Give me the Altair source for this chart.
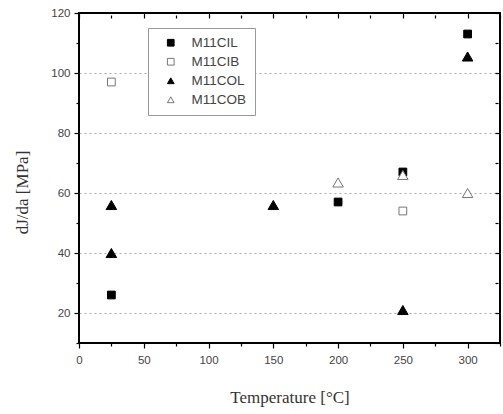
import altair as alt
import pandas as pd

series_names = ["M11CIL", "M11CIB", "M11COL", "M11COB"]

cil_x = [25, 200, 250, 300]
cil_y = [26, 57, 67, 113]
cib_x = [25, 250]
cib_y = [97, 54]
col_x = [25, 25, 150, 250, 300]
col_y = [56, 40, 56, 21, 105.5]
cob_x = [200, 250, 300]
cob_y = [63.5, 66, 60]

rows = []
for name, xs, ys in [("M11CIL", cil_x, cil_y), ("M11CIB", cib_x, cib_y),
                     ("M11COL", col_x, col_y), ("M11COB", cob_x, cob_y)]:
    for a, b in zip(xs, ys):
        rows.append({"series": name, "temp": a, "val": b})
df = pd.DataFrame(rows)

x_ticks = list(range(0, 326, 25))
y_ticks = list(range(10, 121, 10))

LAB = "Liberation Sans"
TIT = "Liberation Serif"

xscale = alt.Scale(domain=[0, 325], nice=False, zero=False)
yscale = alt.Scale(domain=[10, 120], nice=False, zero=False)

major_x = "datum.value % 50 == 0"
major_y = "datum.value % 20 == 0"

x_axis = alt.Axis(
    values=x_ticks, title="Temperature [°C]", titleFont=TIT, titleFontSize=17,
    titleFontWeight="normal", titleColor="#333", titleY=46,
    labelFont=LAB, labelFontSize=11.5, labelColor="#444",
    labelExpr="datum.value % 50 == 0 ? datum.label : ''",
    tickSize={"condition": {"test": major_x, "value": 5}, "value": 3},
    tickColor="black", tickWidth=1.2, labelPadding=6, domain=False, grid=False,
    labelFlush=False)
y_axis = alt.Axis(
    values=y_ticks, title="dJ/da [MPa]", titleFont=TIT, titleFontSize=17,
    titleFontWeight="normal", titleColor="#333", titleX=-48, titleY=179,
    labelFont=LAB, labelFontSize=11.5, labelColor="#444",
    labelExpr="datum.value % 20 == 0 ? datum.label : ''",
    tickSize={"condition": {"test": major_y, "value": 5}, "value": 3},
    tickColor="black", tickWidth=1.2, labelPadding=4, domain=False,
    grid=True, gridColor="#aaaaaa", gridDash=[2, 3], gridWidth=1,
    gridOpacity={"condition": {"test": "datum.value % 20 == 0 && datum.value < 120", "value": 1}, "value": 0},
    labelFlush=False)

enc_common = dict(
    shape=alt.Shape("series:N", scale=alt.Scale(domain=series_names,
                    range=["square", "square", "triangle-up", "triangle-up"]),
                    legend=alt.Legend(title=None)),
    fill=alt.Fill("series:N", scale=alt.Scale(domain=series_names,
                  range=["black", "white", "black", "white"]),
                  legend=alt.Legend(title=None)),
    stroke=alt.Stroke("series:N", scale=alt.Scale(domain=series_names,
                      range=["black", "#777777", "black", "#777777"]),
                      legend=alt.Legend(title=None)),
)

squares = alt.Chart(df).transform_filter(
    "indexof(datum.series, 'CI') >= 0"
).mark_point(filled=True, opacity=1, strokeWidth=1, size=60).encode(
    x=alt.X("temp:Q", scale=xscale, axis=x_axis),
    y=alt.Y("val:Q", scale=yscale, axis=y_axis),
    **enc_common,
)

triangles = alt.Chart(df).transform_filter(
    "indexof(datum.series, 'CO') >= 0"
).mark_point(filled=True, opacity=1, strokeWidth=1, size=110).encode(
    x=alt.X("temp:Q", scale=xscale, axis=x_axis),
    y=alt.Y("val:Q", scale=yscale, axis=y_axis),
    **enc_common,
)

mirror = alt.Chart(df).mark_point(opacity=0).encode(
    x=alt.X("temp:Q", scale=xscale, axis=alt.Axis(
        orient="top", values=x_ticks, labels=False, title=None, domain=False,
        grid=False, offset=-5,
        tickSize={"condition": {"test": major_x, "value": 5}, "value": 3},
        tickColor="black", tickWidth=1.2)),
    y=alt.Y("val:Q", scale=yscale, axis=alt.Axis(
        orient="right", values=y_ticks, labels=False, title=None, domain=False,
        grid=False, offset=-5,
        tickSize={"condition": {"test": major_y, "value": 5}, "value": 3},
        tickColor="black", tickWidth=1.2)),
)

chart = alt.layer(alt.layer(squares, triangles), mirror).resolve_axis(
    x="independent", y="independent").properties(
    width=421, height=330,
    autosize=alt.AutoSizeParams(type="none"),
    padding={"left": 79, "top": 13, "right": 3, "bottom": 71},
    background="white",
).configure_view(
    stroke="black", strokeWidth=2,
).configure_legend(
    orient="none", legendX=69, legendY=15,
    strokeColor="#999999", fillColor="white", padding=8,
    labelFont=LAB, labelFontSize=13.5, labelColor="#444",
    rowPadding=4, symbolSize=45, symbolOffset=8, labelOffset=14,
    symbolStrokeWidth=1,
)

chart.save("out.html", embed_options={"renderer": "svg", "actions": False})
